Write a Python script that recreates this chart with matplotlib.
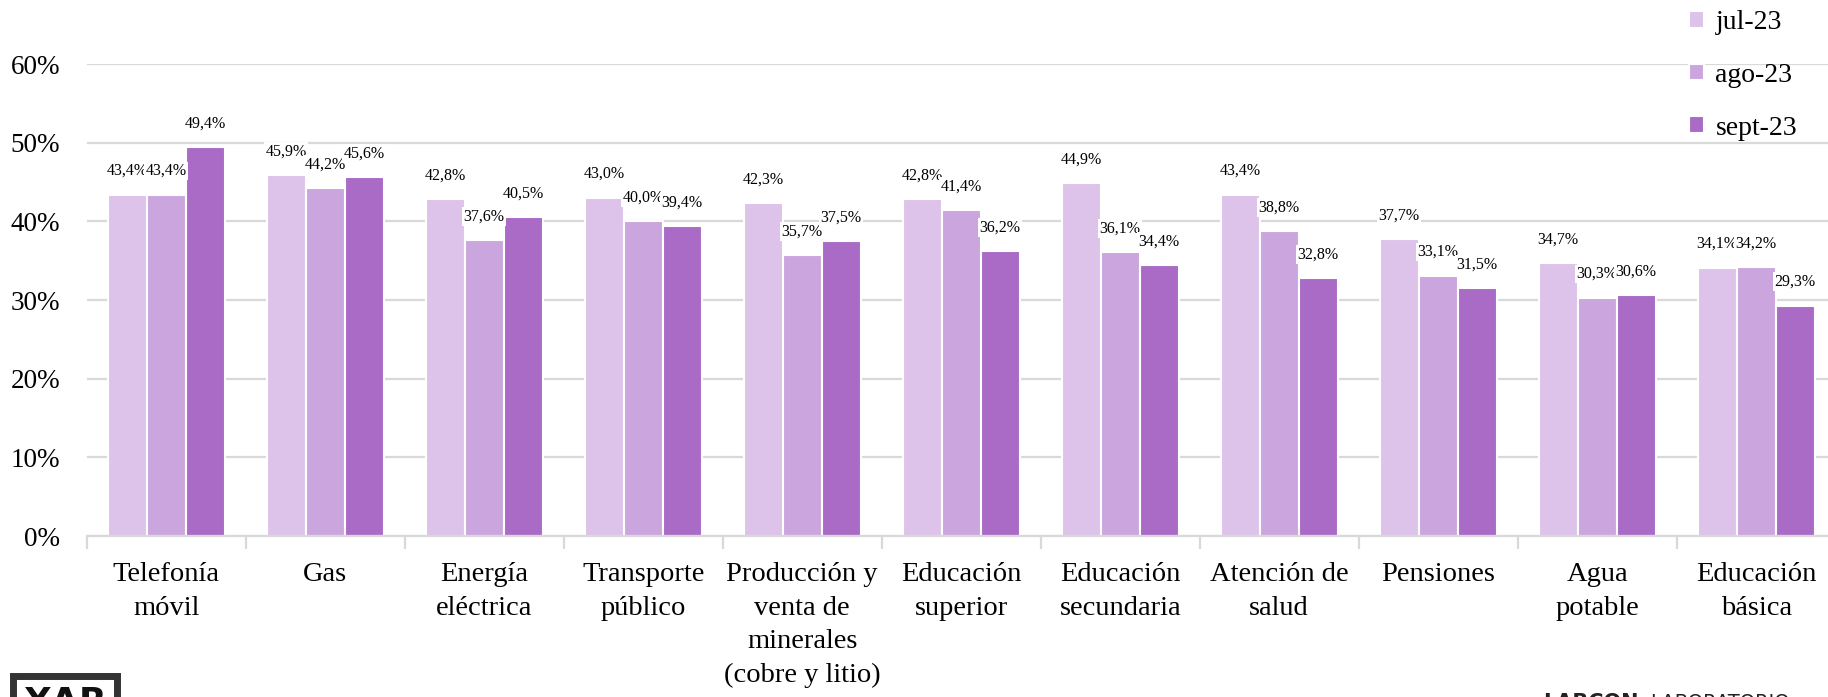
import matplotlib
matplotlib.use("Agg")
import matplotlib.pyplot as plt
import numpy as np
from matplotlib.patches import Rectangle

categories = ["Telefonía\nmóvil", "Gas", "Energía\neléctrica", "Transporte\npúblico",
              "Producción y\nventa de\nminerales\n(cobre y litio)", "Educación\nsuperior",
              "Educación\nsecundaria", "Atención de\nsalud", "Pensiones", "Agua\npotable",
              "Educación\nbásica"]
jul_23 = [43.4, 45.9, 42.8, 43.0, 42.3, 42.8, 44.9, 43.4, 37.7, 34.7, 34.1]
ago_23 = [43.4, 44.2, 37.6, 40.0, 35.7, 41.4, 36.1, 38.8, 33.1, 30.3, 34.2]
sept_23 = [49.4, 45.6, 40.5, 39.4, 37.5, 36.2, 34.4, 32.8, 31.5, 30.6, 29.3]
series_names = ["jul-23", "ago-23", "sept-23"]
colors = ["#DDC3E9", "#CBA6DE", "#A96BC6"]

FONT = ["Liberation Serif", "DejaVu Serif"]
plt.rcParams["font.family"] = FONT

W, H = 1828, 697
fig = plt.figure(figsize=(W / 100, H / 100), dpi=100)
ax = fig.add_axes([86.7 / W, 1 - 536 / H, 1749 / W, 472 / H])

x = np.arange(len(categories))
bw = 0.245
handles = []
for k, (vals, name, col) in enumerate(zip([jul_23, ago_23, sept_23], series_names, colors)):
    v = np.array(vals) / 100
    bars = ax.bar(x + (k - 1) * bw, v, bw, color=col, edgecolor="white", lw=1.5,
                  label=name, zorder=2)
    handles.append(bars)
    for xi, vi in zip(x + (k - 1) * bw, v):
        ax.annotate(f"{vi * 100:.1f}".replace(".", ",") + "%", (xi, vi),
                    xytext=(0, 17), textcoords="offset points", ha="center",
                    va="center", fontsize=11.5, zorder=3,
                    bbox=dict(fc="white", ec="none", pad=1.0))

ax.set_xlim(-0.5, len(categories) - 0.5)
ax.set_ylim(0, 0.6)
ax.set_yticks(np.arange(0, 0.61, 0.1))
ax.set_yticklabels([f"{int(round(t * 100))}%" for t in np.arange(0, 0.61, 0.1)])
ax.yaxis.grid(True, color="#d9d9d9", lw=1.6, zorder=0)
ax.set_axisbelow(True)
ax.tick_params(axis="y", length=0, pad=19, labelsize=19.5)

ax.set_xticks(x)
ax.set_xticklabels(categories, fontsize=20.5, linespacing=1.45)
ax.set_xticks(np.arange(-0.5, len(categories)), minor=True)
ax.tick_params(axis="x", which="major", length=0, pad=19)
ax.tick_params(axis="x", which="minor", length=9, width=1.6, color="#d9d9d9")

for s in ["top", "right", "left"]:
    ax.spines[s].set_visible(False)
ax.spines["bottom"].set_color("#d9d9d9")
ax.spines["bottom"].set_linewidth(1.6)

fig.legend(handles=handles, loc="upper left", bbox_to_anchor=(1678 / W, 1 + 1 / H),
           frameon=False, fontsize=20, handlelength=0.55, handleheight=0.55,
           handletextpad=0.4, labelspacing=1.0, borderaxespad=0)

# logos at the bottom (cropped in the source)
fig.patches.append(Rectangle((13 / W, -20 / H), 104 / W, 41 / H, transform=fig.transFigure,
                             fill=False, ec="#333333", lw=5))
fig.text(65 / W, -6 / H, "XAR", ha="center", va="center", fontsize=26, fontweight="bold",
         family="DejaVu Sans", color="#111111")
fig.text(1543 / W, -6 / H, "LABCON", ha="left", va="center", fontsize=15,
         family="DejaVu Sans", fontweight="bold", color="#222222")
fig.text(1650 / W, -6 / H, "LABORATORIO", ha="left", va="center", fontsize=14,
         family="DejaVu Sans", color="#222222")

fig.savefig("out.png", dpi=100)
